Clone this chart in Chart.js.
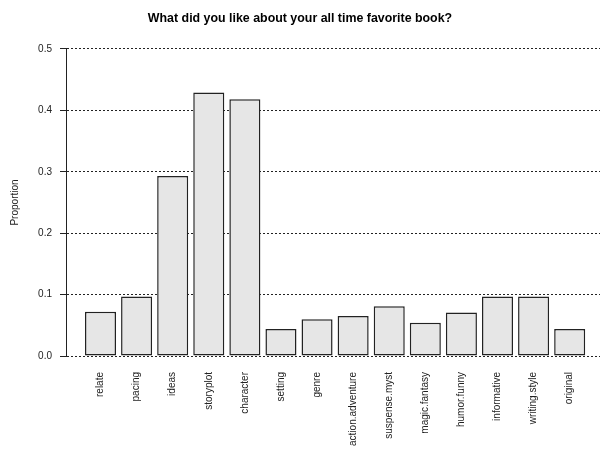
<!DOCTYPE html>
<html>
<head>
<meta charset="utf-8">
<script src="https://cdn.jsdelivr.net/npm/chart.js@4"></script>
<style>
  html, body { margin: 0; padding: 0; background: #fff; }
  #wrap { width: 600px; height: 451px; position: relative; }
</style>
</head>
<body>
<div id="wrap"><canvas id="bookChart"></canvas></div>
<script>
// ── DATA ──
const CATEGORIES = ['relate', 'pacing', 'ideas', 'storyplot', 'character', 'setting', 'genre',
    'action.adventure', 'suspense.myst', 'magic.fantasy', 'humor.funny', 'informative', 'writing.style', 'original'];
const PROPORTIONS = [0.072, 0.097, 0.293, 0.429, 0.418, 0.044, 0.060,
    0.065, 0.081, 0.054, 0.071, 0.097, 0.097, 0.044];
const Y_TICKS = [0.0, 0.1, 0.2, 0.3, 0.4, 0.5];

const INK = '#222';

new Chart(document.getElementById('bookChart'), {
    type: 'bar',
    data: {
        datasets: [{
            data: PROPORTIONS.map((v, i) => ({x: i, y: v})),
            backgroundColor: '#e6e6e6',
            borderColor: INK,
            borderWidth: 1.5,
            borderSkipped: false,
            barPercentage: 0.86,
            categoryPercentage: 1
        }]
    },
    options: {
        responsive: true, maintainAspectRatio: false, animation: false,
        layout: {padding: 0},
        plugins: {
            legend: {display: false},
            tooltip: {enabled: false},
            title: {
                display: true,
                text: 'What did you like about your all time favorite book?',
                color: '#000',
                font: {family: 'Liberation Sans', size: 12.4, weight: 'bold', lineHeight: 1.2},
                padding: {top: 11, bottom: 23.1}
            }
        },
        scales: {
            x: {
                type: 'linear',
                offset: false,
                min: -0.956, max: 13.84,
                afterBuildTicks: s => { s.ticks = CATEGORIES.map((_, i) => ({value: i})); },
                afterFit: s => { s.height = 95; },
                grid: {display: false, drawTicks: false, offset: false},
                border: {display: false},
                ticks: {
                    autoSkip: false, minRotation: 90, maxRotation: 90, padding: 16,
                    color: INK, font: {family: 'Liberation Sans', size: 10},
                    callback: v => CATEGORIES[v]
                }
            },
            y: {
                min: 0, max: 0.5,
                afterBuildTicks: s => { s.ticks = Y_TICKS.map(v => ({value: v})); },
                afterFit: s => { s.width = 66; },
                grid: {color: INK, lineWidth: 1, tickLength: 6, tickColor: INK},
                border: {display: true, color: INK, width: 1, dash: [2, 2]},
                ticks: {
                    padding: 8, color: INK,
                    font: {family: 'Liberation Sans', size: 10},
                    callback: v => v.toFixed(1)
                },
                title: {
                    display: true, text: 'Proportion', color: INK,
                    font: {family: 'Liberation Sans', size: 10},
                    padding: {top: 9, bottom: 0}
                }
            }
        }
    }
});
</script>
</body>
</html>
